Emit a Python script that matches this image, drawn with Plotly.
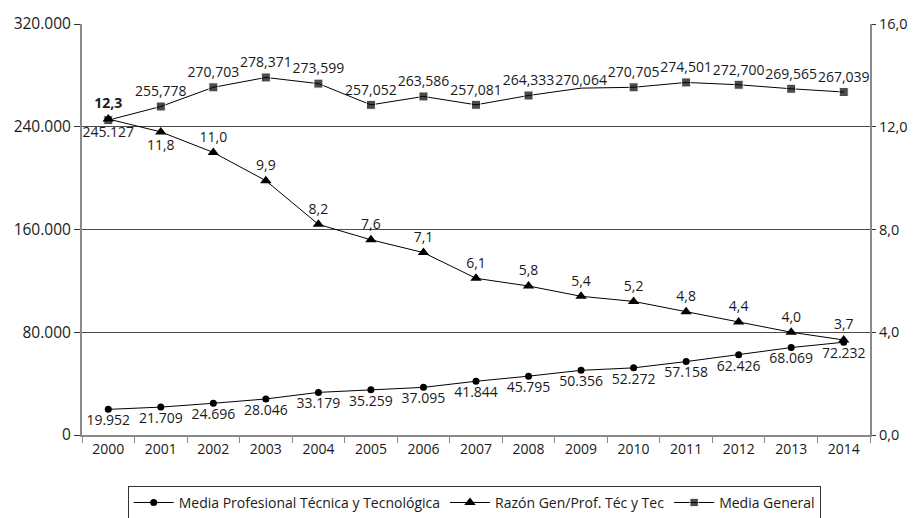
import plotly.graph_objects as go

years = [str(y) for y in range(2000, 2015)]

media_prof = [19952, 21709, 24696, 28046, 33179, 35259, 37095, 41844,
              45795, 50356, 52272, 57158, 62426, 68069, 72232]
razon = [12.3, 11.8, 11.0, 9.9, 8.2, 7.6, 7.1, 6.1, 5.8, 5.4, 5.2, 4.8,
         4.4, 4.0, 3.7]
media_general = [245127, 255778, 270703, 278371, 273599, 257052, 263586,
                 257081, 264333, 270064, 270705, 274501, 272700, 269565,
                 267039]

FONT = "Open Sans"
GREY = "#8a8a8a"
INK = "#1a1a1a"

# labels as printed in the source (mixed separators)
prof_text = [f"{v:,}".replace(",", ".") for v in media_prof]
razon_text = [f"{v:.1f}".replace(".", ",") for v in razon]
razon_text[0] = f"<b>{razon_text[0]}</b>"
gen_text = [f"{v:,}" for v in media_general]
gen_text[0] = gen_text[0].replace(",", ".")

razon_pos = ["top center"] * len(razon)
razon_pos[1] = "bottom center"
gen_pos = ["top center"] * len(media_general)
gen_pos[0] = "bottom center"
gen_sizes = [9] * len(media_general)
gen_sizes[9] = 0  # no marker drawn for 2009 in the original

fig = go.Figure()
fig.add_trace(go.Scatter(
    x=years, y=media_prof, name="Media Profesional Técnica y Tecnológica",
    mode="lines+markers+text", text=prof_text, textposition="bottom center",
    line=dict(color="black", width=1),
    marker=dict(symbol="circle", size=7, color="black"),
    textfont=dict(size=14, color=INK),
))
fig.add_trace(go.Scatter(
    x=years, y=razon, name="Razón Gen/Prof. Téc y Tec", yaxis="y2",
    mode="lines+markers+text", text=razon_text, textposition=razon_pos,
    line=dict(color="black", width=1),
    marker=dict(symbol="triangle-up", size=10, color="black"),
    textfont=dict(size=14, color=INK),
))
fig.add_trace(go.Scatter(
    x=years, y=media_general, name="Media General",
    mode="lines+markers+text", text=gen_text, textposition=gen_pos,
    line=dict(color="black", width=1),
    marker=dict(symbol="square", size=gen_sizes, color="black"),
    textfont=dict(size=14, color=INK),
))

fig.update_layout(
    width=920, height=518,
    margin=dict(l=82, r=42, t=20, b=83),
    paper_bgcolor="white", plot_bgcolor="white",
    separators=",.",
    font=dict(family=FONT, size=14, color=INK),
    showlegend=True,
    legend=dict(orientation="h", x=0.058, xanchor="left",
                yref="container", y=0.062, yanchor="top",
                bordercolor="#333", borderwidth=1,
                font=dict(size=14), itemwidth=40),
    xaxis=dict(type="category", range=[-0.5, 14.5], showgrid=False,
               showline=True, linecolor=GREY, linewidth=2,
               ticks="outside", tickson="boundaries", ticklen=6,
               tickcolor=GREY, tickwidth=1, tickfont=dict(size=14)),
    yaxis=dict(range=[0, 320000], tickvals=[0, 80000, 160000, 240000, 320000],
               tickformat=",d", showgrid=True, gridcolor="#4a4a4a",
               gridwidth=1, showline=True, linecolor=GREY, linewidth=2,
               ticks="outside", ticklen=6, tickcolor="#333",
               tickfont=dict(size=15.5), zeroline=False),
    yaxis2=dict(range=[0, 16], tickvals=[0, 4, 8, 12, 16], tickformat=".1f",
                overlaying="y", side="right", showgrid=False, showline=True,
                linecolor=GREY, linewidth=2, ticks="outside", ticklen=4,
                tickcolor="#333", tickfont=dict(size=14.5), zeroline=False),
)

fig.write_html("out.html", config={"displayModeBar": False},
               post_script="document.body.style.margin = '0';")
